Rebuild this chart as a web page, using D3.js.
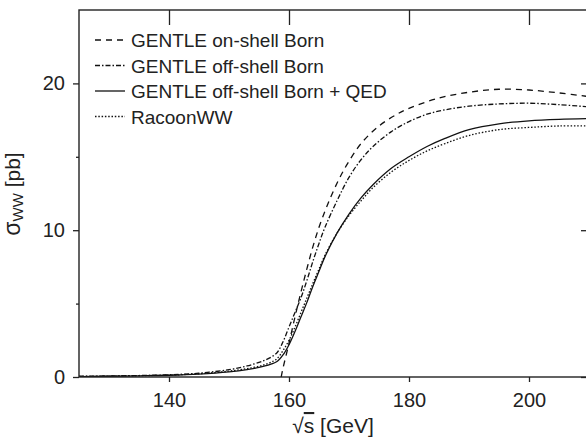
<!DOCTYPE html>
<html>
<head>
<meta charset="utf-8">
<script src="https://cdn.jsdelivr.net/npm/d3@7"></script>
<style>
	body { margin: 0; background: #fff; }
	text { font-family: 'Liberation Sans', Arial, sans-serif; fill: #222; }
</style>
</head>
<body>
<script>
let width = 586;
let height = 445;

// sqrt(s) in GeV, sigma_WW in pb
let energies = [125, 130, 135, 140, 145, 150, 153, 155, 156, 157, 158, 159, 160, 161, 162, 163, 164, 165, 166, 168, 170, 172, 174, 177, 180, 183, 186, 190, 195, 200, 205, 210];
let offShellBorn = [0.05, 0.07, 0.1, 0.15, 0.26, 0.5, 0.75, 1.0, 1.15, 1.35, 1.65, 2.4, 3.4, 4.4, 5.4, 6.6, 7.9, 9.1, 10.2, 12.0, 13.6, 14.8, 15.7, 16.7, 17.4, 17.9, 18.2, 18.45, 18.6, 18.65, 18.55, 18.4];
let offShellQED = [0.03, 0.05, 0.08, 0.12, 0.2, 0.35, 0.5, 0.65, 0.75, 0.88, 1.05, 1.5, 2.2, 3.1, 4.1, 5.1, 6.2, 7.2, 8.2, 9.8, 11.1, 12.2, 13.1, 14.2, 15.0, 15.7, 16.25, 16.85, 17.25, 17.45, 17.55, 17.6];
let racoon = [0.04, 0.06, 0.09, 0.13, 0.22, 0.4, 0.57, 0.73, 0.85, 1.0, 1.25, 1.8, 2.5, 3.4, 4.4, 5.4, 6.4, 7.35, 8.3, 9.8, 11.0, 12.0, 12.9, 13.95, 14.75, 15.4, 15.9, 16.45, 16.85, 17.0, 17.1, 17.1];

// on-shell starts at threshold
let onShellEnergies = [158.7, 159, 160, 161, 162, 163, 164, 165, 166, 167, 168, 169, 170, 172, 175, 178, 180, 185, 190, 195, 200, 205, 210];
let onShellBorn = [0, 0.6, 2.3, 4.1, 5.8, 7.4, 8.9, 10.2, 11.3, 12.3, 13.2, 14.0, 14.7, 15.9, 17.1, 17.9, 18.3, 19.0, 19.4, 19.6, 19.55, 19.35, 19.1];

let xTicks = [140, 160, 180, 200];
let yTicks = [0, 10, 20];
let yMinor = [5, 15];

let legendNames = ['GENTLE on-shell Born', 'GENTLE off-shell Born', 'GENTLE off-shell Born + QED', 'RacoonWW'];

let mLeft = 79, mRight = 589, mTop = 10, mBottom = 377;

let svg = d3.select('body').append('svg')
	.attr('width', width)
	.attr('height', height);

let x = d3.scaleLinear().domain([125, 210]).range([mLeft, mRight]);
let y = d3.scaleLinear().domain([0, 25]).range([mBottom, mTop]);

svg.append('clipPath').attr('id', 'plot')
	.append('rect')
	.attr('x', mLeft).attr('y', mTop)
	.attr('width', mRight - mLeft).attr('height', mBottom - mTop);

let series = [
	{ xs: onShellEnergies, ys: onShellBorn, dash: '6,5' },
	{ xs: energies, ys: offShellBorn, dash: '5,2,1.5,2' },
	{ xs: energies, ys: offShellQED, dash: null },
	{ xs: energies, ys: racoon, dash: '1.5,1.8' }
];

let line = d3.line()
	.x(d => x(d[0]))
	.y(d => y(d[1]))
	.curve(d3.curveCatmullRom.alpha(0.5));

let curves = svg.append('g').attr('clip-path', 'url(#plot)');
for (let s of series) {
	curves.append('path')
		.attr('d', line(s.xs.map((e, i) => [e, s.ys[i]])))
		.style('fill', 'none')
		.style('stroke', '#111')
		.style('stroke-width', 1.3)
		.style('stroke-dasharray', s.dash);
}

// axes
function styleAxis(g) {
	g.select('.domain').remove();
	g.selectAll('line').style('stroke', '#222').style('stroke-width', 1.3);
	g.selectAll('text').style('font-size', '20px').style('fill', '#222').attr('font-family', null);
}

svg.append('g')
	.attr('transform', 'translate(0,' + mBottom + ')')
	.call(d3.axisBottom(x).tickValues(xTicks).tickSize(5).tickPadding(11).tickFormat(d3.format('d')))
	.call(styleAxis);

svg.append('g')
	.attr('transform', 'translate(0,' + mTop + ')')
	.call(d3.axisTop(x).tickValues(xTicks).tickSize(-15).tickFormat(''))
	.call(styleAxis);

svg.append('g')
	.attr('transform', 'translate(' + mLeft + ',0)')
	.call(d3.axisLeft(y).tickValues(yTicks).tickSize(6).tickPadding(8).tickFormat(d3.format('d')))
	.call(styleAxis);

svg.append('g')
	.attr('transform', 'translate(' + mLeft + ',0)')
	.call(d3.axisLeft(y).tickValues(yMinor).tickSize(3).tickFormat(''))
	.call(styleAxis);

svg.append('g')
	.attr('transform', 'translate(' + mRight + ',0)')
	.call(d3.axisRight(y).tickValues(yTicks).tickSize(-8).tickFormat(''))
	.call(styleAxis);

svg.append('g')
	.attr('transform', 'translate(' + mRight + ',0)')
	.call(d3.axisRight(y).tickValues(yMinor).tickSize(-3).tickFormat(''))
	.call(styleAxis);

svg.append('rect')
	.attr('x', mLeft)
	.attr('y', mTop)
	.attr('width', mRight - mLeft)
	.attr('height', mBottom - mTop)
	.style('fill', 'none')
	.style('stroke', '#222')
	.style('stroke-width', 1.4);

// axis titles
let xt = svg.append('text')
	.attr('x', 333)
	.attr('y', 433)
	.attr('text-anchor', 'middle')
	.style('font-size', '21px');
xt.append('tspan').text('\u221A');
xt.append('tspan').text('s').style('text-decoration', 'overline');
xt.append('tspan').text(' [GeV]');

let yt = svg.append('text')
	.attr('transform', 'translate(20,194) rotate(-90)')
	.attr('text-anchor', 'middle')
	.style('font-size', '21px');
yt.append('tspan').text('\u03C3').style('font-size', '23px');
yt.append('tspan').text('WW').attr('dy', 3).style('font-size', '15px');
yt.append('tspan').text(' [pb]').attr('dy', -3);

// legend
let legend = svg.append('g');
legendNames.forEach((name, i) => {
	let ly = 40 + i * 25.5;
	legend.append('line')
		.attr('x1', 95).attr('x2', 125)
		.attr('y1', ly).attr('y2', ly)
		.style('stroke', '#111')
		.style('stroke-width', 1.3)
		.style('stroke-dasharray', series[i].dash);
	legend.append('text')
		.attr('x', 131)
		.attr('y', ly + 7)
		.style('font-size', '19px')
		.text(name);
});
</script>
</body>
</html>
